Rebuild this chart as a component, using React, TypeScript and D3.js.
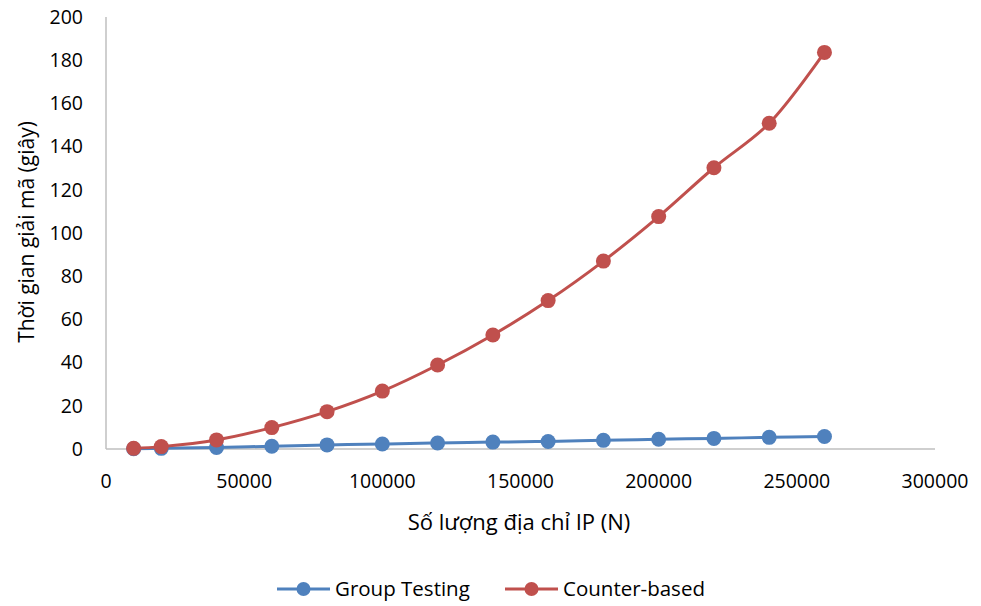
import React from "react";
import * as d3 from "d3";

const ipCounts = [10000, 20000, 40000, 60000, 80000, 100000, 120000, 140000, 160000, 180000, 200000, 220000, 240000, 260000];
const groupTesting = [0.1, 0.3, 0.7, 1.3, 1.9, 2.3, 2.8, 3.2, 3.5, 4.0, 4.5, 4.9, 5.4, 5.8];
const counterBased = [0.3, 1.1, 4.2, 9.9, 17.3, 26.8, 38.9, 52.8, 68.7, 87.0, 107.6, 130.2, 150.8, 183.6];
const xTicks = [0, 50000, 100000, 150000, 200000, 250000, 300000];
const yTicks = [0, 20, 40, 60, 80, 100, 120, 140, 160, 180, 200];

const seriesList = [
  { name: "Group Testing", values: groupTesting, color: "#4F81BD" },
  { name: "Counter-based", values: counterBased, color: "#C0504D" },
];

const W = 981;
const H = 606;
const FONT = "Open Sans, Noto Sans, sans-serif";

export default function App() {
  const x = d3.scaleLinear().domain([0, 300000]).range([106, 935]);
  const y = d3.scaleLinear().domain([0, 200]).range([449, 17]);
  const line = d3
    .line<[number, number]>()
    .x((d) => x(d[0]))
    .y((d) => y(d[1]))
    .curve(d3.curveCatmullRom.alpha(0.5));

  const legendItems = [
    { lineX: 277, textX: 335 },
    { lineX: 505, textX: 563 },
  ];

  return (
    <svg
      width={W}
      height={H}
      style={{ position: "absolute", left: 0, top: 0, background: "#fff" }}
      fontFamily={FONT}
    >
      {/* axes */}
      <line x1={x(0)} x2={x(0)} y1={y(200)} y2={y(0)} stroke="#BFBFBF" strokeWidth={1.5} />
      <line x1={x(0)} x2={x(300000)} y1={y(0)} y2={y(0)} stroke="#BFBFBF" strokeWidth={1.5} />

      {yTicks.map((t) => (
        <text key={t} x={83} y={y(t)} dy="0.35em" textAnchor="end" fontSize={19.5} fill="#000">
          {t}
        </text>
      ))}
      {xTicks.map((t) => (
        <text key={t} x={x(t)} y={481} dy="0.35em" textAnchor="middle" fontSize={19.5} fill="#000">
          {t}
        </text>
      ))}

      <text
        transform={`translate(27,232) rotate(-90)`}
        textAnchor="middle"
        dy="0.35em"
        fontSize={21}
        fill="#000"
      >
        Thời gian giải mã (giây)
      </text>
      <text x={519} y={522} dy="0.35em" textAnchor="middle" fontSize={22} fill="#000">
        Số lượng địa chỉ IP (N)
      </text>

      {seriesList.map((s) => {
        const pts: [number, number][] = ipCounts.map((n, i) => [n, s.values[i]]);
        return (
          <g key={s.name}>
            <path d={line(pts) || ""} fill="none" stroke={s.color} strokeWidth={3} />
            {pts.map((p, i) => (
              <circle key={i} cx={x(p[0])} cy={y(p[1])} r={7.5} fill={s.color} />
            ))}
          </g>
        );
      })}

      {seriesList.map((s, i) => {
        const it = legendItems[i];
        return (
          <g key={s.name}>
            <line x1={it.lineX} x2={it.lineX + 53} y1={589} y2={589} stroke={s.color} strokeWidth={3} />
            <circle cx={it.lineX + 26.5} cy={589} r={7} fill={s.color} />
            <text x={it.textX} y={589} dy="0.35em" fontSize={20.5} fill="#000">
              {s.name}
            </text>
          </g>
        );
      })}
    </svg>
  );
}
